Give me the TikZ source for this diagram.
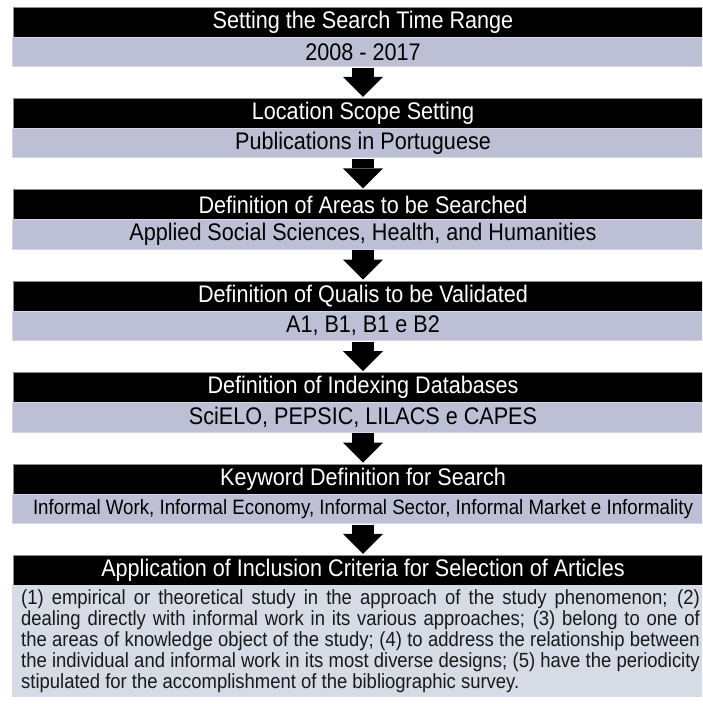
\documentclass[tikz,border=0pt]{standalone}
\usepackage{fontspec}
\setmainfont{Liberation Sans}
\usepackage{graphicx}
\usetikzlibrary{arrows.meta,positioning}
\definecolor{csub}{HTML}{BDC0D5}
\definecolor{csubedge}{HTML}{D3D6EB}
\definecolor{cbody}{HTML}{D6DBE5}
\newcommand{\narrow}[1]{\scalebox{0.9}[1]{#1}}
\tikzset{
  hdrbar/.style={fill=black, draw=black!45, line width=0.8pt, text=white, minimum width=700, minimum height=30, inner sep=0pt, outer sep=0pt, anchor=north, font=\fontsize{24}{26}\selectfont},
  subbar/.style={fill=csub, draw=csubedge, line width=1pt, text=black, minimum width=702, minimum height=29.5, inner sep=0pt, outer sep=0pt, anchor=north},
  bodybox/.style={fill=cbody, minimum width=702, minimum height=111.6, inner sep=0pt, outer sep=0pt, anchor=north},
  bodytext/.style={inner sep=0pt, text=black!90, font=\fontsize{20.5}{20.8}\selectfont},
  flowarrow/.style={line width=22pt, black, -{Triangle[width=40pt, length=20pt, line width=0pt]}, shorten <=1pt, shorten >=1.5pt},
}
\begin{document}
\begin{tikzpicture}[x=1pt, y=-1pt]
\useasboundingbox (0,0) rectangle (702,704);
\clip (0,0) rectangle (702,704);
\def\cx{363} \def\gap{91.4}
% steps of the search
\foreach \i/\hd/\sb/\fs in {
  1/{Setting the Search Time Range}/{2008 - 2017}/24,
  2/{Location Scope Setting}/{Publications in Portuguese}/24,
  3/{Definition of Areas to be Searched}/{Applied Social Sciences, Health, and Humanities}/24,
  4/{Definition of Qualis to be Validated}/{A1, B1, B1 e B2}/24,
  5/{Definition of Indexing Databases}/{SciELO, PEPSIC, LILACS e CAPES}/24,
  6/{Keyword Definition for Search}/{Informal Work, Informal Economy, Informal Sector, Informal Market e Informality}/20.8}{
  \pgfmathsetmacro\ty{7+\gap*(\i-1)}
  \node[hdrbar] (h\i) at (\cx,\ty) {\narrow{\hd}};
  \node[subbar, font=\fontsize{\fs}{\fs}\selectfont] (s\i) at (h\i.south) {\narrow{\sb}};
}
% last step with the criteria
\node[hdrbar] (h7) at (\cx,{7+6*\gap}) {\narrow{Application of Inclusion Criteria for Selection of Articles}};
\node[bodybox] (s7) at (h7.south) {};
\node[bodytext, right=9pt of s7.west] (crit) {\narrow{\parbox{754pt}{%
\makebox[\linewidth][s]{(1) empirical or theoretical study in the approach of the study phenomenon; (2)}\\
\makebox[\linewidth][s]{dealing directly with informal work in its various approaches; (3) belong to one of}\\
\makebox[\linewidth][s]{the areas of knowledge object of the study; (4) to address the relationship between}\\
\makebox[\linewidth][s]{the individual and informal work in its most diverse designs; (5) have the periodicity}\\
stipulated for the accomplishment of the bibliographic survey.}}};
% arrows between the steps
\foreach \i [evaluate=\i as \j using int(\i+1)] in {1,...,6}
  \draw[flowarrow] (s\i.south) -- (h\j.north);
\end{tikzpicture}
\end{document}
